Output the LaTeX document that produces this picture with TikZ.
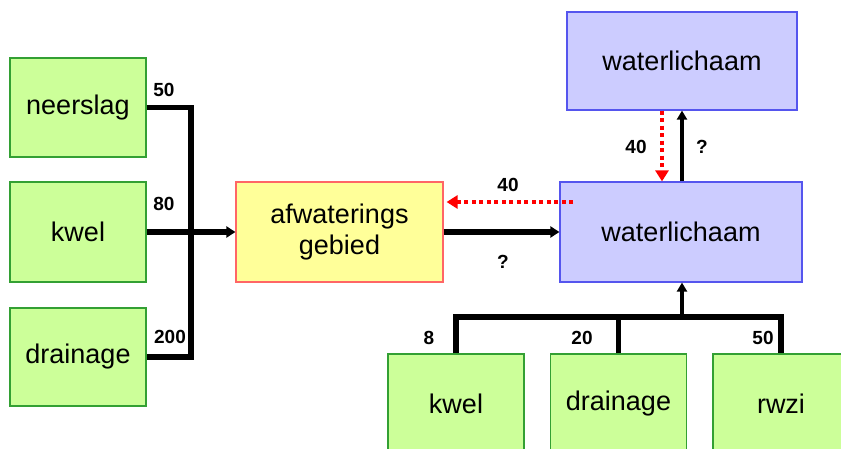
\documentclass[tikz,border=0pt]{standalone}
\usepackage{fontspec}
\setmainfont{Liberation Sans}
\usetikzlibrary{arrows.meta}
\definecolor{gfill}{HTML}{CCFF99}
\definecolor{gline}{HTML}{33A033}
\definecolor{yfill}{HTML}{FFFF99}
\definecolor{yline}{HTML}{FF6666}
\definecolor{bfill}{HTML}{CCCCFF}
\definecolor{bline}{HTML}{5555EE}
\tikzset{
  box/.style={draw, line width=1.2pt, minimum width=136pt, minimum height=99pt, inner sep=0pt, align=center,
    font=\fontsize{27}{31}\selectfont},
  gbox/.style={box, fill=gfill, draw=gline},
  ybox/.style={box, fill=yfill, draw=yline},
  bbox/.style={box, fill=bfill, draw=bline},
  flow/.style={line width=5.5pt},
  flowarr/.style={line width=5.5pt, -{Triangle[length=9pt,width=11pt]}},
  upflow/.style={line width=4.5pt, -{Triangle[length=9pt,width=10pt]}},
  redflow/.style={red, line width=4pt, dash pattern=on 4pt off 3.5pt, -{Triangle[length=11pt,width=13pt]}},
  lbl/.style={font=\fontsize{19}{21}\selectfont\bfseries, inner sep=0pt}
}
\begin{document}
\begin{tikzpicture}[x=1pt,y=-1pt]
\useasboundingbox (0,0) rectangle (841,449);
\begin{scope}
\clip (0,0) rectangle (841,449);
% left sources
\node[gbox, minimum height=99pt] (n1) at (78,107.5) {neerslag};
\node[gbox, minimum height=100pt] (k1) at (78,232) {kwel};
\node[gbox, minimum height=98pt] (d1) at (78,357) {drainage};
% afwateringsgebied
\node[ybox, minimum width=207pt, minimum height=100pt] (af) at (339.5,232) {afwaterings\\gebied};
% waterlichamen
\node[bbox, minimum width=230pt, minimum height=98pt] (wl1) at (682,61) {waterlichaam};
\node[bbox, minimum width=242pt, minimum height=100pt] (wl2) at (681,232) {waterlichaam};
% bottom sources
\node[gbox, minimum height=100pt] (k2) at (456,404) {kwel};
\node[gbox, minimum height=100pt] (d2) at (618.5,404) {drainage};
\node[gbox, minimum height=100pt] (r2) at (781,404) {rwzi};
\end{scope}
% left bus
\coordinate (busL) at (191,232);
\draw[flow] (n1.east) -| (busL) |- (d1.east);
\draw[flowarr] (k1.east) -- (af.west);
\node[lbl] (l50a) at (164,90) {50};
\node[lbl] (l80) at (164,204) {80};
\node[lbl] (l200) at (170,337) {200};
% afwatering to waterlichaam
\draw[flowarr] (af.east) -- (wl2.west);
\node[lbl] (q1) at (503,262) {?};
\coordinate (rs) at (573,202);
\draw[redflow] (rs) -- ([xshift=3pt]af.east |- rs);
\node[lbl] (l40a) at (508,185) {40};
% between waterlichamen
\draw[redflow] (wl1.south -| 662,0) -- (wl2.north -| 662,0);
\draw[upflow] (wl2.north -| 682,0) -- (wl1.south -| 682,0);
\node[lbl] (l40b) at (636,147) {40};
\node[lbl] (q2) at (702,147) {?};
% bottom bus
\coordinate (busB) at (682,317);
\draw[flow] (k2.north) |- (busB) -| (r2.north);
\draw[flow] (d2.north) -- (d2.north |- busB);
\draw[upflow] (busB) -- (wl2.south -| busB);
\node[lbl] (l8) at (429,338) {8};
\node[lbl] (l20) at (582,338) {20};
\node[lbl] (l50b) at (763,338) {50};
\end{tikzpicture}
\end{document}
